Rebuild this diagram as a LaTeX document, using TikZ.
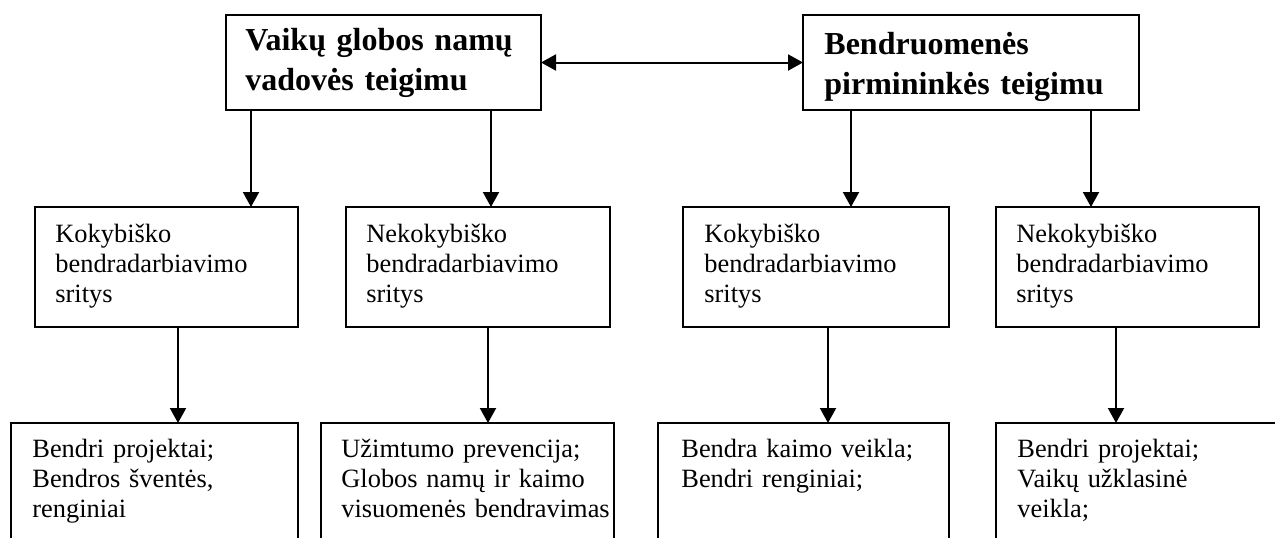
\documentclass[tikz,border=0pt]{standalone}
\usepackage{fontspec}
\setmainfont{Liberation Serif}
\usetikzlibrary{arrows.meta,fit}
\begin{document}
\begin{tikzpicture}[x=0.5pt,y=-0.5pt,
  box/.style={draw, line width=1pt, inner sep=0pt, outer sep=0pt},
  arr/.style={line width=1pt, -{Triangle[length=7.5pt,width=8pt]}},
  dbl/.style={line width=1pt, {Triangle[length=7.5pt,width=8pt]}-{Triangle[length=7.5pt,width=8pt]}},
  title/.style={anchor=base west, inner sep=0pt, text width=170pt, align=left, font=\fontsize{16pt}{20pt}\selectfont\bfseries},
  txt/.style={anchor=base west, inner sep=0pt, text width=150pt, align=left, font=\fontsize{13.2pt}{15pt}\selectfont}]
\useasboundingbox (0,0) rectangle (1275,537);
\clip (0,0) rectangle (1275,537);
% boxes
\node[box, fit={(226,15) (541,110)}] (tl) {};
\node[box, fit={(803,15) (1139,110)}] (tr) {};
\node[box, fit={(35,207) (298,327)}] (k1) {};
\node[box, fit={(346,207) (610,327)}] (n1) {};
\node[box, fit={(683,207) (949,327)}] (k2) {};
\node[box, fit={(996,207) (1259,327)}] (n2) {};
\node[box, fit={(11,423) (298,600)}] (b1) {};
\node[box, fit={(321,423) (614,600)}] (b2) {};
\node[box, fit={(658,423) (949,600)}] (b3) {};
\node[box, fit={(996,423) (1300,600)}] (b4) {};
% texts
\node[title] (tlt) at (245,50) {Vaikų globos namų\\vadovės teigimu};
\node[title] (trt) at (824,54) {Bendruomenės\\pirmininkės teigimu};
\node[txt] (k1t) at (55,242) {Kokybiško\\bendradarbiavimo\\sritys};
\node[txt] (n1t) at (366,242) {Nekokybiško\\bendradarbiavimo\\sritys};
\node[txt] (k2t) at (704,242) {Kokybiško\\bendradarbiavimo\\sritys};
\node[txt] (n2t) at (1016,242) {Nekokybiško\\bendradarbiavimo\\sritys};
\node[txt] (b1t) at (32,457) {Bendri projektai;\\Bendros šventės,\\renginiai};
\node[txt] (b2t) at (341,457) {Užimtumo prevencija;\\Globos namų ir kaimo\\visuomenės bendravimas};
\node[txt] (b3t) at (681,457) {Bendra kaimo veikla;\\Bendri renginiai;};
\node[txt] (b4t) at (1017,457) {Bendri projektai;\\Vaikų užklasinė\\veikla;};
% connector x positions
\coordinate (a1) at (251,0);
\coordinate (a2) at (491,0);
\coordinate (a3) at (851,0);
\coordinate (a4) at (1091,0);
\coordinate (c1) at (178,0);
\coordinate (c2) at (488,0);
\coordinate (c3) at (828,0);
\coordinate (c4) at (1116,0);
% connectors
\draw[dbl] (tl.east) -- (tr.west);
\draw[arr] (a1 |- tl.south) -- (a1 |- k1.north);
\draw[arr] (a2 |- tl.south) -- (a2 |- n1.north);
\draw[arr] (a3 |- tr.south) -- (a3 |- k2.north);
\draw[arr] (a4 |- tr.south) -- (a4 |- n2.north);
\draw[arr] (c1 |- k1.south) -- (c1 |- b1.north);
\draw[arr] (c2 |- n1.south) -- (c2 |- b2.north);
\draw[arr] (c3 |- k2.south) -- (c3 |- b3.north);
\draw[arr] (c4 |- n2.south) -- (c4 |- b4.north);
\end{tikzpicture}
\end{document}
